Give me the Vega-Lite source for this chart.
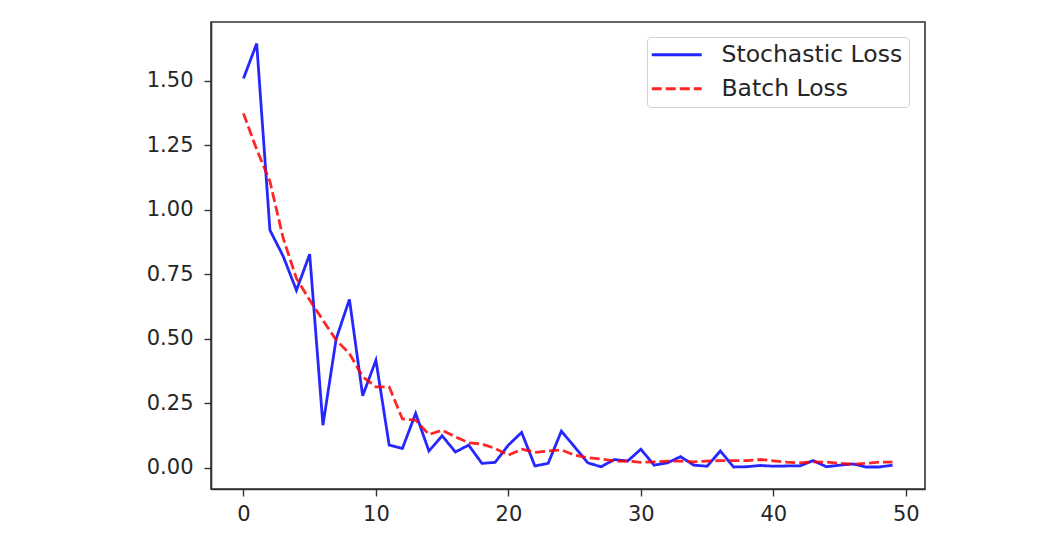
{
  "$schema": "https://vega.github.io/schema/vega-lite/v6.json",
  "width": 714,
  "height": 467,
  "autosize": {"type": "none"},
  "padding": {"left": 211, "top": 22, "right": 127, "bottom": 46},
  "background": "white",
  "config": {
    "font": "DejaVu Sans",
    "view": {"stroke": "#333333", "strokeWidth": 1.6},
    "axis": {
      "domainColor": "#333333", "domainWidth": 1.6,
      "tickColor": "#333333", "tickWidth": 1.4, "tickSize": 7,
      "labelFont": "DejaVu Sans", "labelFontSize": 21, "labelColor": "#262626",
      "grid": false, "title": null
    },
    "axisX": {"labelPadding": 7},
    "axisY": {"labelPadding": 11}
  },
  "data": {
    "values": [
      {"epoch":0,"loss":1.509,"series":"Stochastic Loss"},
      {"epoch":1,"loss":1.645,"series":"Stochastic Loss"},
      {"epoch":2,"loss":0.921,"series":"Stochastic Loss"},
      {"epoch":3,"loss":0.82,"series":"Stochastic Loss"},
      {"epoch":4,"loss":0.688,"series":"Stochastic Loss"},
      {"epoch":5,"loss":0.828,"series":"Stochastic Loss"},
      {"epoch":6,"loss":0.165,"series":"Stochastic Loss"},
      {"epoch":7,"loss":0.5,"series":"Stochastic Loss"},
      {"epoch":8,"loss":0.653,"series":"Stochastic Loss"},
      {"epoch":9,"loss":0.279,"series":"Stochastic Loss"},
      {"epoch":10,"loss":0.417,"series":"Stochastic Loss"},
      {"epoch":11,"loss":0.088,"series":"Stochastic Loss"},
      {"epoch":12,"loss":0.075,"series":"Stochastic Loss"},
      {"epoch":13,"loss":0.211,"series":"Stochastic Loss"},
      {"epoch":14,"loss":0.065,"series":"Stochastic Loss"},
      {"epoch":15,"loss":0.124,"series":"Stochastic Loss"},
      {"epoch":16,"loss":0.061,"series":"Stochastic Loss"},
      {"epoch":17,"loss":0.088,"series":"Stochastic Loss"},
      {"epoch":18,"loss":0.017,"series":"Stochastic Loss"},
      {"epoch":19,"loss":0.021,"series":"Stochastic Loss"},
      {"epoch":20,"loss":0.088,"series":"Stochastic Loss"},
      {"epoch":21,"loss":0.137,"series":"Stochastic Loss"},
      {"epoch":22,"loss":0.007,"series":"Stochastic Loss"},
      {"epoch":23,"loss":0.017,"series":"Stochastic Loss"},
      {"epoch":24,"loss":0.142,"series":"Stochastic Loss"},
      {"epoch":25,"loss":0.081,"series":"Stochastic Loss"},
      {"epoch":26,"loss":0.019,"series":"Stochastic Loss"},
      {"epoch":27,"loss":0.004,"series":"Stochastic Loss"},
      {"epoch":28,"loss":0.032,"series":"Stochastic Loss"},
      {"epoch":29,"loss":0.026,"series":"Stochastic Loss"},
      {"epoch":30,"loss":0.072,"series":"Stochastic Loss"},
      {"epoch":31,"loss":0.01,"series":"Stochastic Loss"},
      {"epoch":32,"loss":0.019,"series":"Stochastic Loss"},
      {"epoch":33,"loss":0.043,"series":"Stochastic Loss"},
      {"epoch":34,"loss":0.01,"series":"Stochastic Loss"},
      {"epoch":35,"loss":0.006,"series":"Stochastic Loss"},
      {"epoch":36,"loss":0.065,"series":"Stochastic Loss"},
      {"epoch":37,"loss":0.003,"series":"Stochastic Loss"},
      {"epoch":38,"loss":0.004,"series":"Stochastic Loss"},
      {"epoch":39,"loss":0.009,"series":"Stochastic Loss"},
      {"epoch":40,"loss":0.006,"series":"Stochastic Loss"},
      {"epoch":41,"loss":0.007,"series":"Stochastic Loss"},
      {"epoch":42,"loss":0.007,"series":"Stochastic Loss"},
      {"epoch":43,"loss":0.028,"series":"Stochastic Loss"},
      {"epoch":44,"loss":0.004,"series":"Stochastic Loss"},
      {"epoch":45,"loss":0.01,"series":"Stochastic Loss"},
      {"epoch":46,"loss":0.015,"series":"Stochastic Loss"},
      {"epoch":47,"loss":0.003,"series":"Stochastic Loss"},
      {"epoch":48,"loss":0.003,"series":"Stochastic Loss"},
      {"epoch":49,"loss":0.01,"series":"Stochastic Loss"},
      {"epoch":0,"loss":1.374,"series":"Batch Loss"},
      {"epoch":1,"loss":1.234,"series":"Batch Loss"},
      {"epoch":2,"loss":1.11,"series":"Batch Loss"},
      {"epoch":3,"loss":0.89,"series":"Batch Loss"},
      {"epoch":4,"loss":0.734,"series":"Batch Loss"},
      {"epoch":5,"loss":0.65,"series":"Batch Loss"},
      {"epoch":6,"loss":0.572,"series":"Batch Loss"},
      {"epoch":7,"loss":0.495,"series":"Batch Loss"},
      {"epoch":8,"loss":0.443,"series":"Batch Loss"},
      {"epoch":9,"loss":0.353,"series":"Batch Loss"},
      {"epoch":10,"loss":0.314,"series":"Batch Loss"},
      {"epoch":11,"loss":0.314,"series":"Batch Loss"},
      {"epoch":12,"loss":0.189,"series":"Batch Loss"},
      {"epoch":13,"loss":0.185,"series":"Batch Loss"},
      {"epoch":14,"loss":0.129,"series":"Batch Loss"},
      {"epoch":15,"loss":0.146,"series":"Batch Loss"},
      {"epoch":16,"loss":0.12,"series":"Batch Loss"},
      {"epoch":17,"loss":0.097,"series":"Batch Loss"},
      {"epoch":18,"loss":0.092,"series":"Batch Loss"},
      {"epoch":19,"loss":0.075,"series":"Batch Loss"},
      {"epoch":20,"loss":0.049,"series":"Batch Loss"},
      {"epoch":21,"loss":0.072,"series":"Batch Loss"},
      {"epoch":22,"loss":0.06,"series":"Batch Loss"},
      {"epoch":23,"loss":0.065,"series":"Batch Loss"},
      {"epoch":24,"loss":0.069,"series":"Batch Loss"},
      {"epoch":25,"loss":0.049,"series":"Batch Loss"},
      {"epoch":26,"loss":0.039,"series":"Batch Loss"},
      {"epoch":27,"loss":0.034,"series":"Batch Loss"},
      {"epoch":28,"loss":0.026,"series":"Batch Loss"},
      {"epoch":29,"loss":0.026,"series":"Batch Loss"},
      {"epoch":30,"loss":0.021,"series":"Batch Loss"},
      {"epoch":31,"loss":0.023,"series":"Batch Loss"},
      {"epoch":32,"loss":0.026,"series":"Batch Loss"},
      {"epoch":33,"loss":0.026,"series":"Batch Loss"},
      {"epoch":34,"loss":0.023,"series":"Batch Loss"},
      {"epoch":35,"loss":0.026,"series":"Batch Loss"},
      {"epoch":36,"loss":0.028,"series":"Batch Loss"},
      {"epoch":37,"loss":0.028,"series":"Batch Loss"},
      {"epoch":38,"loss":0.028,"series":"Batch Loss"},
      {"epoch":39,"loss":0.032,"series":"Batch Loss"},
      {"epoch":40,"loss":0.027,"series":"Batch Loss"},
      {"epoch":41,"loss":0.022,"series":"Batch Loss"},
      {"epoch":42,"loss":0.019,"series":"Batch Loss"},
      {"epoch":43,"loss":0.023,"series":"Batch Loss"},
      {"epoch":44,"loss":0.022,"series":"Batch Loss"},
      {"epoch":45,"loss":0.017,"series":"Batch Loss"},
      {"epoch":46,"loss":0.014,"series":"Batch Loss"},
      {"epoch":47,"loss":0.017,"series":"Batch Loss"},
      {"epoch":48,"loss":0.022,"series":"Batch Loss"},
      {"epoch":49,"loss":0.022,"series":"Batch Loss"}
    ]
  },
  "mark": {"type": "line", "strokeWidth": 2.8, "opacity": 0.85},
  "encoding": {
    "x": {
      "field": "epoch", "type": "quantitative",
      "scale": {"domain": [-2.45, 51.45], "nice": false, "zero": false},
      "axis": {"values": [0, 10, 20, 30, 40, 50], "format": "d"}
    },
    "y": {
      "field": "loss", "type": "quantitative",
      "scale": {"domain": [-0.0823, 1.7283], "nice": false, "zero": false},
      "axis": {"values": [0, 0.25, 0.5, 0.75, 1.0, 1.25, 1.5], "format": ".2f"}
    },
    "color": {
      "field": "series", "type": "nominal",
      "scale": {"domain": ["Stochastic Loss", "Batch Loss"], "range": ["#0000ff", "#ff0000"]},
      "legend": {
        "title": null, "orient": "none", "legendX": 436, "legendY": 15,
        "symbolType": "M-2.5,0L2.5,0", "symbolSize": 400, "symbolStrokeWidth": 2.8,
        "symbolOpacity": 0.85, "symbolOffset": 12,
        "labelFontSize": 23.5, "labelFont": "DejaVu Sans", "labelColor": "#262626",
        "labelOffset": 33, "labelLimit": 400, "rowPadding": 9,
        "padding": 6, "strokeColor": "#d0d0d0", "cornerRadius": 4, "fillColor": "white"
      }
    },
    "strokeDash": {
      "field": "series", "type": "nominal",
      "scale": {"domain": ["Stochastic Loss", "Batch Loss"], "range": [[1, 0], [10, 4]]},
      "legend": {
        "title": null, "orient": "none", "legendX": 436, "legendY": 15,
        "symbolType": "M-2.5,0L2.5,0", "symbolSize": 400, "symbolStrokeWidth": 2.8,
        "symbolOpacity": 0.85, "symbolOffset": 12,
        "labelFontSize": 23.5, "labelFont": "DejaVu Sans", "labelColor": "#262626",
        "labelOffset": 33, "labelLimit": 400, "rowPadding": 9,
        "padding": 6, "strokeColor": "#d0d0d0", "cornerRadius": 4, "fillColor": "white"
      }
    }
  }
}
